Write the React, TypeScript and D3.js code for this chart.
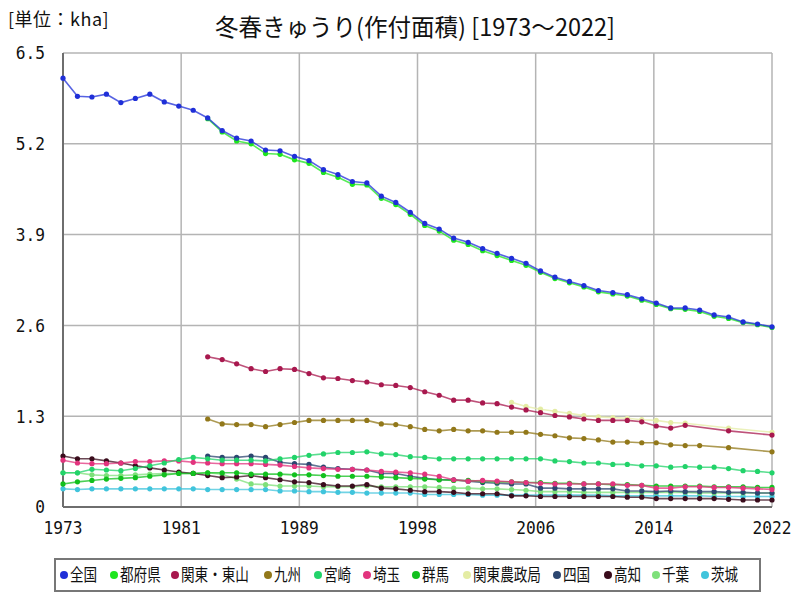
import React, { useEffect, useRef } from "react";
import { select, scaleLinear, line } from "d3";

const years = [
  1973, 1974, 1975, 1976, 1977, 1978, 1979, 1980, 1981, 1982,
  1983, 1984, 1985, 1986, 1987, 1988, 1989, 1990, 1991, 1992,
  1993, 1994, 1995, 1996, 1997, 1998, 1999, 2000, 2001, 2002,
  2003, 2004, 2005, 2006, 2007, 2008, 2009, 2010, 2011, 2012,
  2013, 2014, 2015, 2016, 2017, 2018, 2019, 2020, 2021, 2022,
];

const _ = null;

// values in kha, one per year (null = no data)
const zenkoku = [
  6.14, 5.88, 5.87, 5.91, 5.79, 5.85, 5.91, 5.80, 5.74, 5.68,
  5.57, 5.39, 5.28, 5.24, 5.11, 5.10, 5.02, 4.96, 4.83, 4.76,
  4.66, 4.64, 4.45, 4.36, 4.22, 4.06, 3.98, 3.85, 3.79, 3.70,
  3.63, 3.56, 3.49, 3.38, 3.29, 3.23, 3.17, 3.10, 3.07, 3.04,
  2.98, 2.92, 2.85, 2.85, 2.82, 2.75, 2.72, 2.65, 2.62, 2.58,
];
const tofuken = [
  _, _, _, _, _, _, _, _, _, _,
  5.56, 5.37, 5.24, 5.20, 5.06, 5.05, 4.97, 4.92, 4.79, 4.72,
  4.62, 4.61, 4.42, 4.33, 4.19, 4.03, 3.95, 3.82, 3.76, 3.67,
  3.60, 3.53, 3.46, 3.36, 3.27, 3.21, 3.15, 3.08, 3.05, 3.02,
  2.96, 2.90, 2.84, 2.83, 2.80, 2.73, 2.70, 2.64, 2.61, 2.57,
];
const kantoTosan = [
  _, _, _, _, _, _, _, _, _, _,
  2.15, 2.11, 2.05, 1.98, 1.94, 1.98, 1.97, 1.91, 1.85, 1.84,
  1.81, 1.79, 1.75, 1.74, 1.71, 1.65, 1.60, 1.53, 1.53, 1.49,
  1.48, 1.43, 1.39, 1.35, 1.31, 1.29, 1.26, 1.24, 1.24, 1.24,
  1.22, 1.16, 1.13, 1.17, _, _, 1.09, _, _, 1.03,
];
const kyushu = [
  _, _, _, _, _, _, _, _, _, _,
  1.26, 1.19, 1.18, 1.18, 1.15, 1.18, 1.21, 1.24, 1.24, 1.24,
  1.24, 1.24, 1.19, 1.18, 1.15, 1.11, 1.09, 1.11, 1.09, 1.09,
  1.07, 1.07, 1.07, 1.04, 1.02, 0.99, 0.98, 0.96, 0.93, 0.93,
  0.92, 0.92, 0.89, 0.88, 0.88, _, 0.85, _, _, 0.79,
];
const miyazaki = [
  0.49, 0.49, 0.54, 0.53, 0.52, 0.55, 0.59, 0.63, 0.68, 0.71,
  0.69, 0.67, 0.67, 0.67, 0.66, 0.69, 0.71, 0.74, 0.76, 0.78,
  0.78, 0.79, 0.76, 0.75, 0.72, 0.71, 0.69, 0.69, 0.69, 0.69,
  0.69, 0.69, 0.69, 0.69, 0.66, 0.65, 0.63, 0.63, 0.61, 0.61,
  0.59, 0.59, 0.57, 0.58, 0.57, 0.57, 0.55, 0.52, 0.51, 0.49,
];
const saitama = [
  0.67, 0.63, 0.62, 0.62, 0.63, 0.65, 0.65, 0.66, 0.66, 0.64,
  0.63, 0.62, 0.62, 0.62, 0.61, 0.60, 0.58, 0.56, 0.55, 0.54,
  0.54, 0.53, 0.51, 0.50, 0.49, 0.47, 0.44, 0.39, 0.37, 0.38,
  0.37, 0.36, 0.35, 0.34, 0.33, 0.33, 0.33, 0.33, 0.33, 0.31,
  0.31, 0.27, 0.27, 0.29, 0.29, 0.28, 0.28, 0.27, 0.26, 0.25,
];
const gunma = [
  0.33, 0.36, 0.38, 0.40, 0.41, 0.42, 0.44, 0.46, 0.48, 0.48,
  0.49, 0.49, 0.49, 0.47, 0.47, 0.47, 0.46, 0.46, 0.45, 0.44,
  0.44, 0.44, 0.43, 0.42, 0.41, 0.40, 0.39, 0.38, 0.38, 0.37,
  0.36, 0.36, 0.35, 0.35, 0.34, 0.34, 0.33, 0.33, 0.32, 0.32,
  0.31, 0.30, 0.30, 0.30, 0.30, 0.29, 0.29, 0.29, 0.28, 0.28,
];
const kantoNoseikyoku = [
  _, _, _, _, _, _, _, _, _, _,
  _, _, _, _, _, _, _, _, _, _,
  _, _, _, _, _, _, _, _, _, _,
  _, 1.50, 1.44, 1.40, 1.37, 1.34, 1.31, 1.29, 1.28, 1.27,
  1.25, 1.24, 1.21, 1.20, _, _, 1.13, _, _, 1.07,
];
const shikoku = [
  _, _, _, _, _, _, _, _, _, _,
  0.73, 0.71, 0.71, 0.73, 0.71, 0.64, 0.62, 0.61, 0.57, 0.55,
  0.54, 0.53, 0.48, 0.48, 0.44, 0.41, 0.39, 0.39, 0.37, 0.35,
  0.34, 0.33, 0.33, 0.27, 0.27, 0.26, 0.26, 0.26, 0.26, 0.23,
  0.23, 0.22, 0.23, 0.22, 0.22, 0.22, 0.21, 0.21, 0.20, 0.20,
];
const kochi = [
  0.73, 0.69, 0.69, 0.66, 0.63, 0.59, 0.56, 0.53, 0.50, 0.48,
  0.45, 0.42, 0.43, 0.45, 0.42, 0.39, 0.36, 0.35, 0.32, 0.30,
  0.30, 0.32, 0.27, 0.26, 0.24, 0.22, 0.22, 0.21, 0.19, 0.19,
  0.19, 0.16, 0.16, 0.15, 0.15, 0.15, 0.15, 0.15, 0.15, 0.14,
  0.14, 0.12, 0.12, 0.12, 0.12, 0.12, 0.11, 0.10, 0.10, 0.10,
];
const chiba = [
  0.49, 0.49, 0.46, 0.45, 0.45, 0.46, 0.47, 0.48, 0.48, 0.48,
  0.49, 0.47, 0.40, 0.33, 0.32, 0.30, 0.30, 0.30, 0.29, 0.29,
  0.29, 0.30, 0.29, 0.29, 0.29, 0.29, 0.28, 0.27, 0.27, 0.26,
  0.26, 0.25, 0.24, 0.22, 0.22, 0.22, 0.21, 0.21, 0.21, 0.21,
  0.21, 0.21, 0.21, 0.21, 0.20, 0.20, 0.20, 0.20, 0.20, 0.20,
];
const ibaraki = [
  0.26, 0.25, 0.26, 0.26, 0.26, 0.26, 0.26, 0.26, 0.26, 0.26,
  0.25, 0.25, 0.25, 0.25, 0.25, 0.23, 0.23, 0.22, 0.22, 0.21,
  0.21, 0.20, 0.20, 0.20, 0.20, 0.18, 0.18, 0.18, 0.18, 0.17,
  0.17, 0.17, 0.17, 0.17, 0.17, 0.17, 0.17, 0.17, 0.16, 0.16,
  0.16, 0.16, 0.16, 0.16, 0.16, 0.15, 0.15, 0.15, 0.15, 0.15,
];

const seriesNames = ["全国", "都府県", "関東・東山", "九州", "宮崎", "埼玉", "群馬", "関東農政局", "四国", "高知", "千葉", "茨城"];
const seriesValues = [zenkoku, tofuken, kantoTosan, kyushu, miyazaki, saitama, gunma, kantoNoseikyoku, shikoku, kochi, chiba, ibaraki];
const seriesColors = ["#1f2fd8", "#1ee61e", "#a8184e", "#92781a", "#22d36a", "#e2347e", "#12c01e", "#e4eca4", "#2c4670", "#3a0c1c", "#7ee07a", "#40c4dc"];

const yTicks = [0, 1.3, 2.6, 3.9, 5.2, 6.5];
const xTickLabels = ["1973", "1981", "1989", "1998", "2006", "2014", "2022"];

const FONT = "'Noto Sans CJK JP', 'Noto Sans', sans-serif";
const MONO = "'DejaVu Sans Mono', monospace";

// text squeezed horizontally, the reference uses a narrow gothic face
function squeezed(parent, x, y, str, opts) {
  const g = parent.append("g").attr("transform", `translate(${x},${y}) scale(${opts.sx},1)`);
  return g.append("text")
    .attr("dy", "0.35em")
    .attr("text-anchor", opts.anchor || "start")
    .attr("font-family", opts.font || FONT)
    .attr("font-size", opts.size)
    .attr("fill", "#111")
    .text(str);
}

function App() {
  const svgRef = useRef(null);

  useEffect(() => {
    const svg = select(svgRef.current);
    svg.selectAll("*").remove();

    const left = 63, right = 772, top = 53, bottom = 507;

    const xScale = scaleLinear().domain([years[0], years[years.length - 1]]).range([left, right]);
    const yScale = scaleLinear().domain([0, 6.5]).range([bottom, top]);
    // tick positions evenly split the plot width
    const tickPos = scaleLinear().domain([0, xTickLabels.length - 1]).range([left, right]);

    // grid
    const grid = svg.append("g");
    yTicks.forEach(t => {
      grid.append("line")
        .attr("x1", left).attr("x2", right)
        .attr("y1", yScale(t)).attr("y2", yScale(t))
        .attr("stroke", "#b4b4b4").attr("stroke-width", 1.5);
    });
    xTickLabels.forEach((_l, i) => {
      grid.append("line")
        .attr("x1", tickPos(i)).attr("x2", tickPos(i))
        .attr("y1", top).attr("y2", bottom)
        .attr("stroke", "#b4b4b4").attr("stroke-width", 1.5);
    });
    // axes
    grid.append("line").attr("x1", left).attr("x2", left).attr("y1", top).attr("y2", bottom)
      .attr("stroke", "#6e6e6e").attr("stroke-width", 2);
    grid.append("line").attr("x1", left).attr("x2", right).attr("y1", bottom).attr("y2", bottom)
      .attr("stroke", "#6e6e6e").attr("stroke-width", 2);

    // tick labels
    const ticks = svg.append("g");
    yTicks.forEach(t => {
      squeezed(ticks, 45, yScale(t), t === 0 ? "0" : t.toFixed(1),
        { sx: 0.9, size: 18, font: MONO, anchor: "end" });
    });
    xTickLabels.forEach((lab, i) => {
      squeezed(ticks, tickPos(i), 528, lab, { sx: 0.9, size: 18, font: MONO, anchor: "middle" });
    });

    // series, drawn back to front so 全国 ends on top
    const lineGen = line()
      .x(d => xScale(d[0]))
      .y(d => yScale(d[1]));

    for (let s = seriesNames.length - 1; s >= 0; s--) {
      const pts = years
        .map((yr, i) => [yr, seriesValues[s][i]])
        .filter(p => p[1] !== null);
      const g = svg.append("g");
      g.append("path")
        .attr("d", lineGen(pts))
        .attr("fill", "none")
        .attr("stroke", seriesColors[s])
        .attr("stroke-width", 1.6)
        .attr("stroke-opacity", 0.75);
      g.selectAll("circle")
        .data(pts)
        .join("circle")
        .attr("cx", d => xScale(d[0]))
        .attr("cy", d => yScale(d[1]))
        .attr("r", 2.6)
        .attr("fill", seriesColors[s]);
    }

    // titles
    squeezed(svg, 415, 28, "冬春きゅうり(作付面積) [1973～2022]", { sx: 0.98, size: 24, anchor: "middle" });
    squeezed(svg, 8, 20, "[単位：kha]", { sx: 1, size: 18 })
      .attr("letter-spacing", 0.5);

    // legend
    const legendX = [64, 114, 175, 268, 318, 367, 416, 467, 557, 608, 656, 705];
    const legend = svg.append("g");
    legend.append("rect")
      .attr("x", 55).attr("y", 559).attr("width", 705).attr("height", 32)
      .attr("fill", "#fff").attr("stroke", "#777").attr("stroke-width", 2);
    seriesNames.forEach((name, i) => {
      legend.append("circle")
        .attr("cx", legendX[i]).attr("cy", 575).attr("r", 4)
        .attr("fill", seriesColors[i]);
      squeezed(legend, legendX[i] + 6, 575, name, { sx: 0.8, size: 17 });
    });
  }, []);

  return (
    <svg ref={svgRef} width={800} height={600}
      style={{ position: "absolute", left: 0, top: 0, background: "#fff" }} />
  );
}

export default App;
